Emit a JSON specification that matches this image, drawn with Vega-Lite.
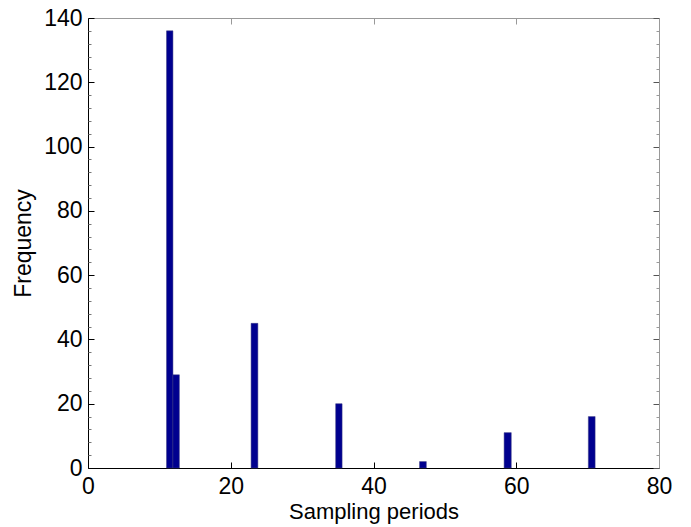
{
  "$schema": "https://vega.github.io/schema/vega-lite/v6.json",
  "width": 571,
  "height": 450,
  "autosize": {"type": "none"},
  "padding": {"left": 88, "top": 18, "right": 32, "bottom": 59},
  "background": "white",
  "config": {
    "view": {"stroke": null},
    "axis": {"labelFont": "Liberation Sans", "titleFont": "Liberation Sans", "labelColor": "black", "titleColor": "black", "titleFontWeight": "normal", "grid": false}
  },
  "data": {
    "values": [
      {"start": 11.0, "end": 11.9, "count": 136},
      {"start": 11.9, "end": 12.8, "count": 29},
      {"start": 22.85, "end": 23.8, "count": 45},
      {"start": 34.7, "end": 35.6, "count": 20},
      {"start": 46.45, "end": 47.4, "count": 2},
      {"start": 58.3, "end": 59.3, "count": 11},
      {"start": 70.1, "end": 71.05, "count": 16}
    ]
  },
  "resolve": {"axis": {"x": "independent", "y": "independent"}},
  "layer": [
    {
      "mark": {"type": "bar", "color": "#00008F", "stroke": "#3a3a80", "strokeWidth": 0.5},
      "encoding": {
        "x": {"field": "start", "type": "quantitative", "scale": {"domain": [0, 80], "nice": false, "padding": 0},
          "axis": {"orient": "bottom", "values": [0, 20, 40, 60, 80], "title": "Sampling periods", "titleFontSize": 22, "labelFontSize": 23, "tickSize": -6, "tickColor": "black", "domainColor": "black", "labelPadding": 13, "titlePadding": 3, "labelFlush": false}},
        "x2": {"field": "end"},
        "y": {"field": "count", "type": "quantitative", "scale": {"domain": [0, 140], "nice": false, "padding": 0},
          "axis": {"orient": "left", "values": [0, 20, 40, 60, 80, 100, 120, 140], "title": "Frequency", "titleFontSize": 23, "labelFontSize": 23, "tickSize": -6, "tickColor": "black", "domainColor": "black", "labelPadding": 12, "titlePadding": 8, "labelFlush": false}},
        "y2": {"datum": 0}
      }
    },
    {
      "mark": {"type": "bar", "opacity": 0},
      "encoding": {
        "x": {"field": "start", "type": "quantitative",
          "axis": {"orient": "top", "values": [0, 20, 40, 60, 80], "title": null, "labels": false, "tickSize": -6, "tickColor": "#999", "domainColor": "#999"}},
        "x2": {"field": "end"},
        "y": {"field": "count", "type": "quantitative",
          "axis": {"orient": "right", "values": [0, 20, 40, 60, 80, 100, 120, 140], "title": null, "labels": false, "tickSize": -6, "tickColor": "#555", "domainColor": "#999"}},
        "y2": {"datum": 0}
      }
    },
    {
      "mark": {"type": "bar", "opacity": 0},
      "encoding": {
        "x": {"field": "start", "type": "quantitative", "axis": null},
        "x2": {"field": "end"},
        "y": {"field": "count", "type": "quantitative",
          "axis": {"orient": "left", "values": [4, 8, 12, 16, 24, 28, 32, 36, 44, 48, 52, 56, 64, 68, 72, 76, 84, 88, 92, 96, 104, 108, 112, 116, 124, 128, 132, 136], "title": null, "labels": false, "domain": false, "tickSize": -3, "tickColor": "#777"}},
        "y2": {"datum": 0}
      }
    },
    {
      "mark": {"type": "bar", "opacity": 0},
      "encoding": {
        "x": {"field": "start", "type": "quantitative", "axis": null},
        "x2": {"field": "end"},
        "y": {"field": "count", "type": "quantitative",
          "axis": {"orient": "right", "values": [4, 8, 12, 16, 24, 28, 32, 36, 44, 48, 52, 56, 64, 68, 72, 76, 84, 88, 92, 96, 104, 108, 112, 116, 124, 128, 132, 136], "title": null, "labels": false, "domain": false, "tickSize": -3, "tickColor": "#999"}},
        "y2": {"datum": 0}
      }
    }
  ]
}
